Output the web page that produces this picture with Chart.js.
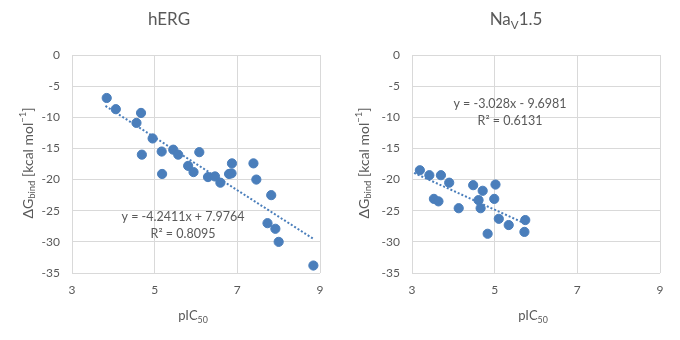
<!DOCTYPE html>
<html>
<head>
<meta charset="utf-8">
<script src="https://cdn.jsdelivr.net/npm/chart.js@4.4.1/dist/chart.umd.min.js"></script>
<style>
  body { margin: 0; background: #fff; }
  .wrap { display: flex; width: 680px; height: 340px; }
  canvas { display: block; }
</style>
</head>
<body>
<div class="wrap">
  <canvas id="herg" width="340" height="340"></canvas>
  <canvas id="nav" width="340" height="340"></canvas>
</div>
<script>
// pIC50 vs binding free energy, one panel per channel
const hergX = [3.84, 4.06, 4.56, 4.67, 4.69, 4.95, 5.17, 5.18, 5.45, 5.57, 5.81, 5.94, 6.08,
               6.29, 6.46, 6.59, 6.80, 6.86, 6.87, 7.39, 7.46, 7.73, 7.82, 7.92, 8.00, 8.84];
const hergY = [-6.9, -8.7, -10.9, -9.3, -16.0, -13.4, -15.5, -19.1, -15.2, -16.0, -17.8, -18.8, -15.6,
               -19.6, -19.5, -20.5, -19.1, -19.0, -17.4, -17.4, -20.0, -27.0, -22.5, -27.9, -30.0, -33.8];
const hergFit = [-4.2411, 7.9764];   // slope, intercept
const hergR2 = 0.8095;
const hergTrendX = [3.81, 8.84];

const navX = [3.19, 3.42, 3.53, 3.64, 3.70, 3.90, 4.13, 4.48, 4.61, 4.66, 4.71, 4.83,
              4.99, 5.02, 5.10, 5.34, 5.72, 5.74];
const navY = [-18.5, -19.3, -23.1, -23.5, -19.3, -20.5, -24.6, -20.9, -23.3, -24.6, -21.8, -28.7,
              -23.1, -20.8, -26.3, -27.3, -28.4, -26.5];
const navFit = [-3.028, -9.6981];
const navR2 = 0.6131;
const navTrendX = [3.05, 5.74];

const xTicks = [3, 5, 7, 9];
const yTicks = [0, -5, -10, -15, -20, -25, -30, -35];

const FONT = 'Lato, "Liberation Sans", sans-serif';
const GREY = '#595959';
const BLUE = '#4a7ebb';

// draws a run of text pieces; sub = -1 subscript, 1 superscript
function drawRich(ctx, parts, x, y, size) {
  const widths = parts.map(p => {
    ctx.font = (p.sub ? size * 0.68 : size) + 'px ' + FONT;
    return ctx.measureText(p.t).width;
  });
  let cx = x - widths.reduce((a, b) => a + b, 0) / 2;
  ctx.textBaseline = 'middle';
  ctx.textAlign = 'left';
  parts.forEach((p, i) => {
    ctx.font = (p.sub ? size * 0.68 : size) + 'px ' + FONT;
    let dy = 0;
    if (p.sub === -1) dy = size * 0.3;
    if (p.sub === 1) dy = -size * 0.35;
    ctx.fillText(p.t, cx, y + dy);
    cx += widths[i];
  });
}

const labels = {
  id: 'labels',
  afterDraw(chart, args, o) {
    const ctx = chart.ctx;
    ctx.save();
    ctx.fillStyle = GREY;
    drawRich(ctx, o.title, o.titlePos[0], o.titlePos[1], 17);
    drawRich(ctx, [{ t: 'pIC' }, { t: '50', sub: -1 }], o.xTitlePos[0], o.xTitlePos[1], 13);
    ctx.save();
    ctx.translate(o.yTitlePos[0], o.yTitlePos[1]);
    ctx.rotate(-Math.PI / 2);
    drawRich(ctx, [{ t: '\u0394G' }, { t: 'bind', sub: -1 }, { t: ' [kcal mol' }, { t: '\u22121', sub: 1 }, { t: ']' }], 0, 0, 14);
    ctx.restore();
    const [m, b] = o.fit;
    const eq = 'y = ' + m + 'x ' + (b < 0 ? '- ' : '+ ') + Math.abs(b);
    drawRich(ctx, [{ t: eq }], o.eqPos[0], o.eqPos[1], 12.5);
    drawRich(ctx, [{ t: 'R\u00b2 = ' + o.r2 }], o.eqPos[0], o.eqPos[1] + 17, 12.5);
    ctx.restore();
  }
};

function makeChart(id, xs, ys, fit, r2, trendX, text) {
  const points = xs.map((x, i) => ({ x: x, y: ys[i] }));
  const trend = trendX.map(x => ({ x: x, y: fit[0] * x + fit[1] }));
  const tickFont = { family: FONT, size: 12 };
  return new Chart(document.getElementById(id), {
    type: 'scatter',
    data: {
      datasets: [
        { data: points, backgroundColor: BLUE, borderColor: BLUE, pointRadius: 4.6, pointHoverRadius: 4.6 },
        { data: trend, showLine: true, pointRadius: 0, borderColor: BLUE, borderWidth: 2, borderDash: [2, 2], fill: false }
      ]
    },
    options: {
      responsive: false,
      animation: false,
      devicePixelRatio: 1,
      layout: { padding: { top: 55, right: 20, bottom: 0, left: 0 } },
      plugins: {
        legend: { display: false },
        tooltip: { enabled: false },
        labels: text
      },
      scales: {
        x: {
          type: 'linear', min: xTicks[0], max: xTicks[xTicks.length - 1],
          afterBuildTicks: s => { s.ticks = xTicks.map(v => ({ value: v })); },
          afterFit: s => { s.height = 67; },
          ticks: { color: GREY, font: tickFont, padding: 10 },
          grid: { color: '#d9d9d9', drawTicks: false },
          border: { display: false }
        },
        y: {
          type: 'linear', min: yTicks[yTicks.length - 1], max: yTicks[0],
          afterBuildTicks: s => { s.ticks = yTicks.slice().reverse().map(v => ({ value: v })); },
          afterFit: s => { s.width = 72; },
          ticks: { color: GREY, font: tickFont, padding: 12 },
          grid: { color: '#d9d9d9', drawTicks: false },
          border: { display: false }
        }
      }
    },
    plugins: [labels]
  });
}

makeChart('herg', hergX, hergY, hergFit, hergR2, hergTrendX, {
  title: [{ t: 'hERG' }], titlePos: [169, 20],
  xTitlePos: [193, 316], yTitlePos: [28, 163],
  fit: hergFit, r2: hergR2, eqPos: [183, 217]
});

makeChart('nav', navX, navY, navFit, navR2, navTrendX, {
  title: [{ t: 'Na' }, { t: 'V', sub: -1 }, { t: '1.5' }], titlePos: [176, 20],
  xTitlePos: [193, 316], yTitlePos: [24, 163],
  fit: navFit, r2: navR2, eqPos: [170, 104]
});
</script>
</body>
</html>
